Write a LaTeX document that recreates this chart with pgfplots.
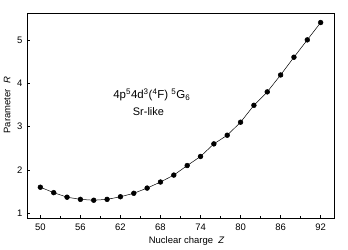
\documentclass[border=0pt]{standalone}
\usepackage{pgfplots}
\pgfplotsset{compat=1.18}
\usepackage{fontspec}
\setmainfont{Liberation Sans}
\begin{document}
\begin{tikzpicture}
\begin{axis}[
  scale only axis,
  width=307bp, height=205bp,
  xmin=48, xmax=94, ymin=0.89, ymax=5.62,
  xtick={50,56,...,92},
  minor xtick={53,59,...,89},
  ytick={1,2,3,4,5},
  tick align=inside,
  xtick pos=bottom, ytick pos=left,
  major tick length=3bp, minor tick length=2bp,
  axis line style={line width=0.6pt},
  tick style={line width=0.5pt, black},
  tick label style={font=\fontsize{9.5}{11}\selectfont},
  label style={font=\fontsize{9.5}{11}\selectfont},
  /pgf/number format/assume math mode=true,
  xticklabel style={yshift=-2bp},
  yticklabel style={xshift=-1bp},
  xlabel={Nuclear charge\ \ \textit{Z}},
  xlabel style={at={(ticklabel cs:0.52)}, yshift=0bp},
  ylabel={Parameter\ \ \textit{R}},
  ylabel style={at={(ticklabel cs:0.55)}, yshift=0bp},
  clip=false,
]
\addplot[black, line width=0.5pt, mark=*, mark size=2.4bp] coordinates {
(50,1.60) (52,1.475) (54,1.37) (56,1.32) (58,1.30) (60,1.32) (62,1.38)
(64,1.46) (66,1.58) (68,1.72) (70,1.88) (72,2.10) (74,2.31) (76,2.60)
(78,2.80) (80,3.10) (82,3.49) (84,3.80) (86,4.19) (88,4.60) (90,5.00) (92,5.40)
};
\node[font=\fontsize{11.5}{13}\selectfont] at (axis cs:66.7,3.73) {4p\textsuperscript{5}4d\textsuperscript{3}(\textsuperscript{4}F) \textsuperscript{5}G\textsubscript{6}};
\node[font=\fontsize{11}{13}\selectfont] at (axis cs:66.2,3.35) {Sr-like};
\end{axis}
\path[use as bounding box] ([shift={(-27bp,-31bp)}]current axis.south west) rectangle ([shift={(14bp,13bp)}]current axis.north east);
\end{tikzpicture}
\end{document}
